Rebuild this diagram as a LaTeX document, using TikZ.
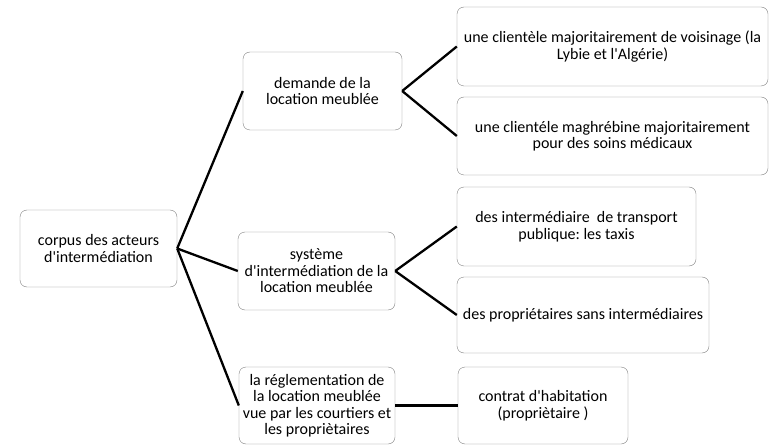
\documentclass[tikz,border=0pt]{standalone}
\usepackage{fontspec}
\setmainfont{Carlito}
\newcommand{\ap}{\textquotesingle}
\frenchspacing

\begin{document}
\begin{tikzpicture}[x=1pt,y=-1pt,
  boite/.style={draw=gray, rounded corners=7pt, align=center, inner sep=1pt,
    font=\fontsize{16}{16.5}\selectfont},
  lien/.style={line width=2.3pt}]
\useasboundingbox (0,0) rectangle (770,446);
%\draw[red] (0,0) rectangle (770,446);
\node[boite, minimum width=157pt, minimum height=77pt] (corpus) at (98.5,248.5)
  {corpus des acteurs\\d\ap intermédiation};
\node[boite, minimum width=159pt, minimum height=78pt] (demande) at (322.5,91)
  {demande de la\\location meublée};
\node[boite, minimum width=157pt, minimum height=78pt] (systeme) at (316.5,271)
  {système\\d\ap intermédiation de la\\location meublée};
\node[boite, minimum width=156pt, minimum height=77pt] (regle) at (317,405.5)
  {la réglementation de\\la location meublée\\vue par les courtiers et\\les propriètaires};
\node[boite, minimum width=311pt, minimum height=79pt] (voisin) at (612.5,46.5)
  {une clientèle majoritairement de voisinage (la\\Lybie et l\ap Algérie)};
\node[boite, minimum width=311pt, minimum height=78pt] (soins) at (612.5,136)
  {une clientéle maghrébine majoritairement\\pour des soins médicaux};
\node[boite, minimum width=239pt, minimum height=79pt] (taxis) at (576.5,226.5)
  {des intermédiaire~~de transport\\publique: les taxis};
\node[boite, minimum width=252pt, minimum height=76pt] (proprio) at (583,315)
  {des propriétaires sans intermédiaires};
\node[boite, minimum width=170pt, minimum height=77pt] (contrat) at (543,405.5)
  {contrat d\ap habitation\\(propriètaire )};
\foreach \a/\b in {corpus/demande, corpus/systeme, corpus/regle,
  demande/voisin, demande/soins, systeme/taxis, systeme/proprio, regle/contrat}
  \draw[lien] (\a.east) -- (\b.west);
\end{tikzpicture}
\end{document}
